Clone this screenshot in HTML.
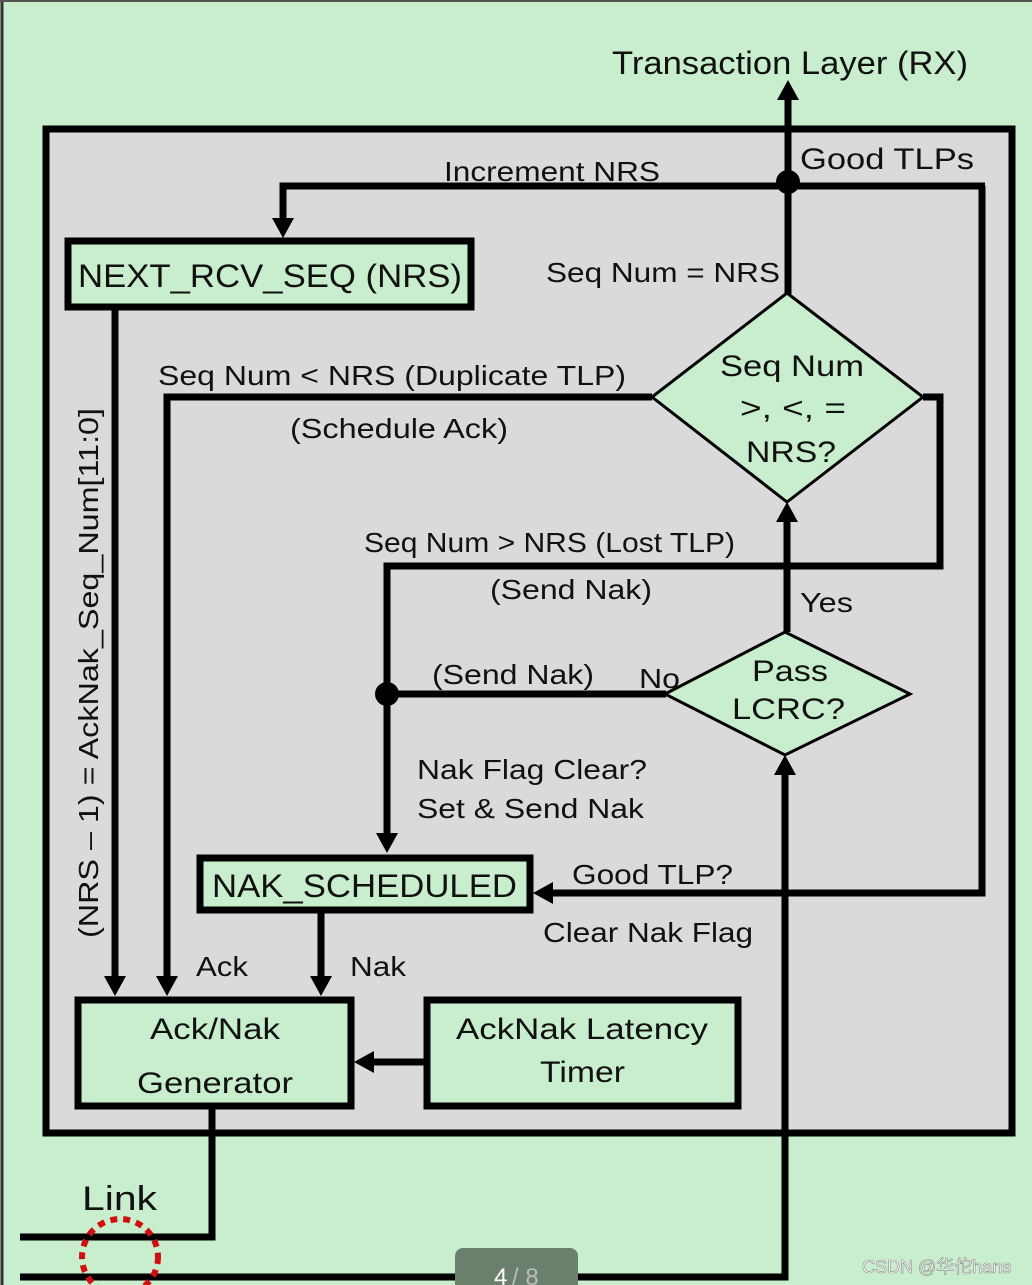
<!DOCTYPE html>
<html><head><meta charset="utf-8"><style>
html,body{margin:0;padding:0;background:#c9eecd;}
svg{display:block}
text{font-family:"Liberation Sans",sans-serif;fill:#111;}
</style></head><body>
<svg width="1032" height="1285" viewBox="0 0 1032 1285" xmlns="http://www.w3.org/2000/svg">
<rect x="0" y="0" width="1032" height="1285" fill="#c9eecd"/>
<line x1="2" y1="0" x2="2" y2="1285" stroke="#333" stroke-width="3"/>
<line x1="0" y1="1" x2="1032" y2="1" stroke="#555" stroke-width="2"/>
<rect x="46" y="129" width="966" height="1004" fill="#dadada" stroke="#000" stroke-width="7"/>
<g stroke="#000" stroke-width="7" fill="none">
<line x1="788" y1="98" x2="788" y2="294"/>
<polyline points="985,186 283,186 283,220"/>
<polyline points="982,186 982,893 552,893"/>
<line x1="115" y1="310" x2="115" y2="978"/>
<polyline points="652,397 167,397 167,978"/>
<polyline points="923,397 940,397 940,566 387,566 387,835"/>
<line x1="666" y1="694" x2="387" y2="694"/>
<line x1="787" y1="632" x2="787" y2="520"/>
<polyline points="20,1277 785,1277 785,775"/>
<line x1="321" y1="912" x2="321" y2="978"/>
<line x1="424" y1="1062" x2="372" y2="1062"/>
<polyline points="212,1108 212,1237 20,1237"/>
</g>
<g fill="#000">
<polygon points="788,80 777,100 799,100"/>
<polygon points="283,238 272,218 294,218"/>
<polygon points="533,893 553,882 553,904"/>
<polygon points="115,996 104,976 126,976"/>
<polygon points="167,996 156,976 178,976"/>
<polygon points="387,853 376,833 398,833"/>
<polygon points="321,996 310,976 332,976"/>
<polygon points="787,502 776,522 798,522"/>
<polygon points="785,755 774,775 796,775"/>
<polygon points="354,1062 374,1051 374,1073"/>
<circle cx="788" cy="182" r="12"/>
<circle cx="387" cy="694" r="12"/>
</g>
<rect x="68" y="241" width="403" height="66" fill="#c9eecd" stroke="#000" stroke-width="7"/>
<rect x="200" y="858" width="330" height="52" fill="#c9eecd" stroke="#000" stroke-width="7"/>
<rect x="78" y="1000" width="273" height="106" fill="#c9eecd" stroke="#000" stroke-width="7"/>
<rect x="427" y="1000" width="311" height="106" fill="#c9eecd" stroke="#000" stroke-width="7"/>
<polygon points="787,293 923,397 787,502 652,397" fill="#c9eecd" stroke="#000" stroke-width="3"/>
<polygon points="785,632 910,694 785,755 665,694" fill="#c9eecd" stroke="#000" stroke-width="3"/>
<circle cx="120" cy="1257" r="38" fill="none" stroke="#d01010" stroke-width="6" stroke-dasharray="7 6"/>
<g lengthAdjust="spacingAndGlyphs">
<text x="612" y="74" font-size="32" textLength="356" lengthAdjust="spacingAndGlyphs">Transaction Layer (RX)</text>
<text x="800" y="169" font-size="30" textLength="174" lengthAdjust="spacingAndGlyphs">Good TLPs</text>
<text x="444" y="181" font-size="28" textLength="216" lengthAdjust="spacingAndGlyphs">Increment NRS</text>
<text x="78" y="287" font-size="32" textLength="384" lengthAdjust="spacingAndGlyphs">NEXT_RCV_SEQ (NRS)</text>
<text x="546" y="282" font-size="28" textLength="234" lengthAdjust="spacingAndGlyphs">Seq Num = NRS</text>
<text x="158" y="385" font-size="28" textLength="468" lengthAdjust="spacingAndGlyphs">Seq Num &lt; NRS (Duplicate TLP)</text>
<text x="290" y="438" font-size="28" textLength="218" lengthAdjust="spacingAndGlyphs">(Schedule Ack)</text>
<text x="720" y="376" font-size="30" textLength="144" lengthAdjust="spacingAndGlyphs">Seq Num</text>
<text x="740" y="418" font-size="30" textLength="106" lengthAdjust="spacingAndGlyphs">&gt;, &lt;, =</text>
<text x="746" y="462" font-size="30" textLength="90" lengthAdjust="spacingAndGlyphs">NRS?</text>
<text x="364" y="552" font-size="28" textLength="371" lengthAdjust="spacingAndGlyphs">Seq Num &gt; NRS (Lost TLP)</text>
<text x="490" y="599" font-size="28" textLength="162" lengthAdjust="spacingAndGlyphs">(Send Nak)</text>
<text x="800" y="612" font-size="28" textLength="53" lengthAdjust="spacingAndGlyphs">Yes</text>
<text x="432" y="684" font-size="28" textLength="162" lengthAdjust="spacingAndGlyphs">(Send Nak)</text>
<text x="639" y="688" font-size="28" textLength="41" lengthAdjust="spacingAndGlyphs">No</text>
<text x="752" y="681" font-size="30" textLength="76" lengthAdjust="spacingAndGlyphs">Pass</text>
<text x="732" y="719" font-size="30" textLength="113" lengthAdjust="spacingAndGlyphs">LCRC?</text>
<text x="417" y="779" font-size="28" textLength="230" lengthAdjust="spacingAndGlyphs">Nak Flag Clear?</text>
<text x="417" y="818" font-size="28" textLength="227" lengthAdjust="spacingAndGlyphs">Set &amp; Send Nak</text>
<text x="212" y="897" font-size="32" textLength="305" lengthAdjust="spacingAndGlyphs">NAK_SCHEDULED</text>
<text x="572" y="884" font-size="28" textLength="161" lengthAdjust="spacingAndGlyphs">Good TLP?</text>
<text x="543" y="942" font-size="28" textLength="210" lengthAdjust="spacingAndGlyphs">Clear Nak Flag</text>
<text x="196" y="976" font-size="28" textLength="52" lengthAdjust="spacingAndGlyphs">Ack</text>
<text x="350" y="976" font-size="28" textLength="56" lengthAdjust="spacingAndGlyphs">Nak</text>
<text x="150" y="1039" font-size="30" textLength="130" lengthAdjust="spacingAndGlyphs">Ack/Nak</text>
<text x="137" y="1093" font-size="30" textLength="156" lengthAdjust="spacingAndGlyphs">Generator</text>
<text x="456" y="1039" font-size="30" textLength="252" lengthAdjust="spacingAndGlyphs">AckNak Latency</text>
<text x="540" y="1082" font-size="30" textLength="85" lengthAdjust="spacingAndGlyphs">Timer</text>
<text x="0" y="0" font-size="28" textLength="530" lengthAdjust="spacingAndGlyphs" transform="translate(98,938) rotate(-90)">(NRS – 1) = AckNak_Seq_Num[11:0]</text>
<text x="82" y="1210" font-size="34" textLength="75" lengthAdjust="spacingAndGlyphs">Link</text>
</g>
<rect x="455" y="1248" width="123" height="45" rx="8" fill="#6b7f6d"/>
<text x="494" y="1285" font-size="24" style="fill:#fff">4</text>
<text x="512" y="1285" font-size="24" style="fill:#bbb">/ 8</text>
<text x="862" y="1273" font-size="18" style="fill:#fff;stroke:#888;stroke-width:0.6">CSDN @华佗hans</text>
</svg>
</body></html>
